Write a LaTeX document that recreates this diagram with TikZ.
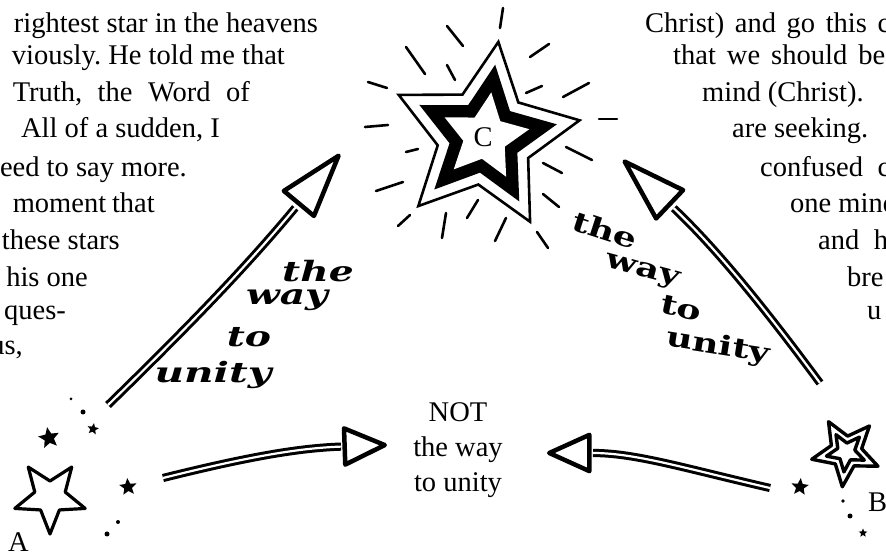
\documentclass[tikz,border=0pt]{standalone}
\usepackage{fontspec}
\usepackage{graphicx}
\setmainfont{Liberation Serif}
\newfontfamily\swashfont{DejaVu Serif}
\usetikzlibrary{arrows.meta,positioning}
\frenchspacing

% closed star outline: outer radius, inner radius, angle of first point
\newcommand{\starline}[3]{(#3:#1) \foreach \k in {1,...,9}{ -- ({#3+36*\k}:{#2+(#1-#2)*(1-mod(\k,2))}) } -- cycle}

\begin{document}
\begin{tikzpicture}[x=1pt,y=1pt]
\tikzstyle{txt} = [inner sep=0pt, font=\fontsize{28.5}{35}\selectfont]
\tikzstyle{wayit} = [inner sep=0pt, font=\swashfont\bfseries\itshape\fontsize{28}{28}\selectfont]
\tikzstyle{wayup} = [inner sep=0pt, font=\swashfont\bfseries\fontsize{27}{27}\selectfont]
\tikzstyle{ray} = [line width=2.6pt, line cap=round]
\tikzstyle{shaft} = [line width=3pt, double=white, double distance=2.2pt]
\tikzstyle{longhead} = [white, line width=.4pt, -{Triangle[open, length=72pt, width=44pt, line width=4.5pt, color=black, round]}]
\tikzstyle{shorthead} = [white, line width=.4pt, -{Triangle[open, length=48pt, width=42pt, line width=4.5pt, color=black, round]}]

\fill[white] (0,0) rectangle (886,554);
\clip (0,0) rectangle (886,554);

% text on the left
\node[txt, anchor=base east] (lline1) at (318,521) {rightest star in the heavens};
\node[txt, anchor=base east] (lline2) at (285,489) {viously. He told me that};
\node[txt, anchor=base east] (lline3) at (250,452) {\makebox[237pt][s]{Truth, the Word of}};
\node[txt, anchor=base east] (lline4) at (220,416) {All of a sudden, I};
\node[txt, anchor=base east] (lline5) at (187,377) {eed to say more.};
\node[txt, anchor=base east] (lline6) at (155,341) {\makebox[142pt][s]{moment that}};
\node[txt, anchor=base east] (lline7) at (120,304) {these stars};
\node[txt, anchor=base east] (lline8) at (88,267) {his one};
\node[txt, anchor=base west] (lline9) at (4,234) {ques-};
\node[txt, anchor=base east] (lline10) at (23,199) {us,};

% text on the right
\node[txt, anchor=base west] (rline1) at (645,521) {\makebox[245pt][s]{Christ) and go this c}};
\node[txt, anchor=base west] (rline2) at (673,489) {\makebox[212pt][s]{that we should be}};
\node[txt, anchor=base west] (rline3) at (702,452) {mind (Christ).};
\node[txt, anchor=base west] (rline4) at (732,416) {are seeking.};
\node[txt, anchor=base west] (rline5) at (760,377) {\makebox[130pt][s]{confused c}};
\node[txt, anchor=base west] (rline6) at (790,341) {one mind};
\node[txt, anchor=base west] (rline7) at (818,304) {\makebox[70pt][s]{and h}};
\node[txt, anchor=base west] (rline8) at (847,267) {bre};
\node[txt, anchor=base west] (rline9) at (867,234) {u};

% the three stars
\coordinate (starC) at (485,417);
\coordinate (starA) at (50,57);
\coordinate (starB) at (846,102);

\draw[line width=2.6pt, shift={(starC)}] \starline{96}{48}{82};
\fill[shift={(starC)}] \starline{73}{36}{82};
\fill[white, shift={(starC)}] \starline{45}{22}{82};
\foreach \xa/\ya/\xb/\yb in {503/546/500/526, 447/528/463/508, 406/507/425/480, 447/489/455/474,
    530/497/549/510, 526/461/542/468, 563/457/589/471, 368/472/387/466, 365/427/388/429,
    599/435/617/435, 406/402/418/405, 566/407/592/394, 543/391/562/381, 376/363/403/372,
    543/360/559/347, 398/328/410/339, 446/341/442/316, 478/354/467/336, 506/336/495/313,
    537/322/548/306}
  \draw[ray] (\xa,\ya) -- (\xb,\yb);
\node[txt] (lblC) at (483,417) {C};

\draw[line width=3.2pt, line join=round, shift={(starA)}] \starline{37}{16}{54};
\draw[line width=3.4pt, line join=round, shift={(starB)}] \starline{35}{16}{48};
\draw[line width=3.4pt, line join=round, shift={(starB)}] \starline{20}{9}{48};
\foreach \sx/\sy/\sr/\sa in {49/116/11/100, 93/125/6/80, 128/67/9/95, 800/67/9/85, 863/21/4.5/90}
  \fill[shift={(\sx,\sy)}] \starline{\sr}{0.45*\sr}{\sa};
\foreach \dx/\dy/\dr in {71/155/1.5, 83/142/2.5, 118/32/2, 107/20/2.5, 843/53/1.8, 850/38/2.5}
  \fill (\dx,\dy) circle (\dr);
\node[txt, anchor=base west] (lblA) at (8,2) {A};
\node[txt, anchor=base west] (lblB) at (868,42) {B};

% centre text
\node[txt, align=center] (notway) at (458,104) {NOT\\the way\\to unity};

% arrows
\coordinate (upLtail) at (108,149);
\coordinate (upLtip) at (340,400);
\coordinate (upRtail) at (820,171);
\coordinate (upRtip) at (623,394);
\coordinate (lowLtail) at (163,76);
\coordinate (lowLtip) at (387,109);
\coordinate (lowRtail) at (770,66);
\coordinate (lowRtip) at (547,101);

\draw[shaft, shorten >=70pt] (upLtail) to[bend right=3] (upLtip);
\draw[longhead] (upLtail) to[bend right=3] (upLtip);
\draw[shaft, shorten >=70pt] (upRtail) to[bend right=5] (upRtip);
\draw[longhead] (upRtail) to[bend right=5] (upRtip);
\draw[shaft, shorten >=46pt] (lowLtail) to[out=14, in=182] (lowLtip);
\draw[shorthead] (lowLtail) to[out=14, in=182] (lowLtip);
\draw[shaft, shorten >=46pt] (lowRtail) to[out=167, in=0] (lowRtip);
\draw[shorthead] (lowRtail) to[out=167, in=0] (lowRtip);

% the way to unity
\node[wayit] (theL) at (318,283) {\scalebox{1.4}[1]{the}};
\node[wayit] (wayL) at (287,254) {\scalebox{1.4}[1]{way}};
\node[wayit] (toL) at (249,217) {\scalebox{1.4}[1]{to}};
\node[wayit] (unityL) at (213,179) {\scalebox{1.45}[1]{unity}};
\node[wayup, rotate=-18] (theR) at (605,324) {\scalebox{1.35}[1]{the}};
\node[wayup, rotate=-15] (wayR) at (642,282) {\scalebox{1.35}[1]{way}};
\node[wayup, rotate=-12] (toR) at (681,246) {\scalebox{1.35}[1]{to}};
\node[wayup, rotate=-9] (unityR) at (718,207) {\scalebox{1.35}[1]{unity}};
\end{tikzpicture}
\end{document}
